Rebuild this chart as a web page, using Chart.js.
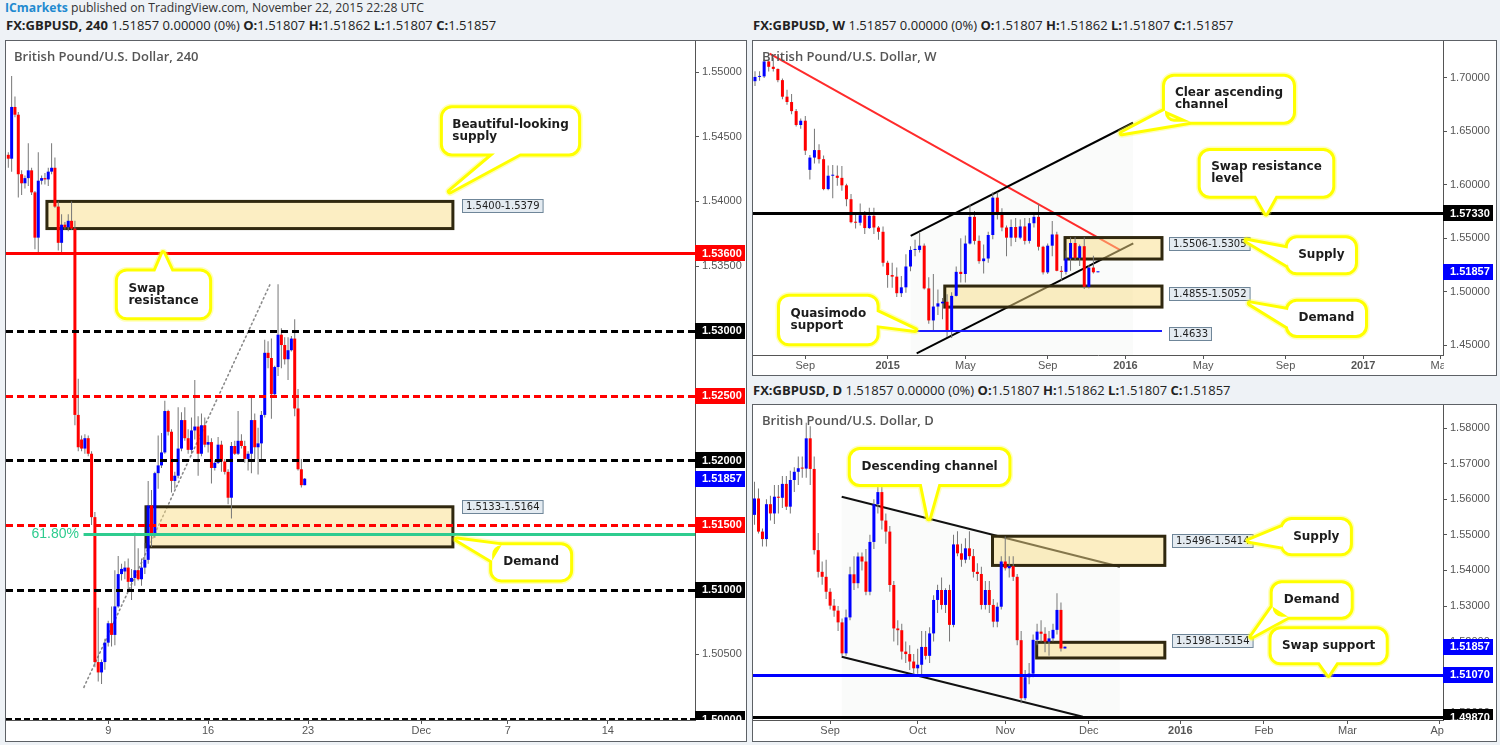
<!DOCTYPE html>
<html>
<head>
<meta charset="utf-8">
<script src="https://cdn.jsdelivr.net/npm/chart.js@4.4.0/dist/chart.umd.min.js"></script>
<style>
  body { margin: 0; width: 1500px; height: 745px; background: #eef2f6; position: relative; overflow: hidden; font-family: "Open Sans", sans-serif; }
  .hdr { position: absolute; font-size: 13px; line-height: 16px; color: #222; white-space: nowrap; }
  .hdr b { font-weight: 700; }
  .panel { position: absolute; border: 1px solid #5d6166; background: #fff; box-sizing: border-box; }
  .panel canvas { display: block; }
</style>
</head>
<body>
<div class="hdr" style="left:5px;top:0px;color:#333;font-size:12.2px"><b style="color:#1f8ad0">ICmarkets</b> published on TradingView.com, November 22, 2015 22:28 UTC</div>
<div class="hdr" style="left:6px;top:17px"><b>FX:GBPUSD, 240</b> 1.51857 0.00000 (0%) <b>O:</b>1.51807 <b>H:</b>1.51862 <b>L:</b>1.51807 <b>C:</b>1.51857</div>
<div class="hdr" style="left:753px;top:17px"><b>FX:GBPUSD, W</b> 1.51857 0.00000 (0%) <b>O:</b>1.51807 <b>H:</b>1.51862 <b>L:</b>1.51807 <b>C:</b>1.51857</div>
<div class="hdr" style="left:753px;top:382px"><b>FX:GBPUSD, D</b> 1.51857 0.00000 (0%) <b>O:</b>1.51807 <b>H:</b>1.51862 <b>L:</b>1.51807 <b>C:</b>1.51857</div>

<div class="panel" style="left:5px;top:40px;width:742px;height:702px"><canvas id="h4" width="740" height="700"></canvas></div>
<div class="panel" style="left:752px;top:40px;width:745px;height:336px"><canvas id="weekly" width="743" height="334"></canvas></div>
<div class="panel" style="left:752px;top:404px;width:745px;height:338px"><canvas id="daily" width="743" height="336"></canvas></div>

<script>
// rows are [open, high, low, close]
const h4Ohlc = [
  [1.5436,1.5438,1.5426,1.5433],[1.5433,1.5497,1.5423,1.5473],[1.5473,1.5481,1.5465,1.5467],[1.5467,1.5469,1.5403,1.5421],
  [1.5421,1.5424,1.5405,1.5414],[1.5414,1.5420,1.5410,1.5418],[1.5418,1.5445,1.5412,1.5424],[1.5424,1.5426,1.5405,1.5407],
  [1.5407,1.5408,1.5363,1.5372],[1.5372,1.5438,1.5359,1.5416],[1.5416,1.5420,1.5413,1.5418],[1.5418,1.5422,1.5413,1.5417],
  [1.5417,1.5426,1.5412,1.5423],[1.5423,1.5445,1.5421,1.5426],[1.5426,1.5434,1.5395,1.5396],[1.5396,1.5400,1.5362,1.5368],
  [1.5368,1.5390,1.5360,1.5382],[1.5382,1.5384,1.5378,1.5380],[1.5380,1.5390,1.5377,1.5385],[1.5385,1.5400,1.5378,1.5379],
  [1.5379,1.5385,1.5227,1.5235],[1.5235,1.5263,1.5207,1.5210],[1.5216,1.5219,1.5207,1.5209],[1.5209,1.5220,1.5205,1.5217],
  [1.5217,1.5219,1.5203,1.5205],[1.5205,1.5207,1.5150,1.5156],[1.5156,1.5160,1.5040,1.5044],[1.5044,1.5086,1.5029,1.5036],
  [1.5036,1.5046,1.5027,1.5044],[1.5044,1.5062,1.5038,1.5059],[1.5059,1.5076,1.5056,1.5074],[1.5074,1.5087,1.5056,1.5065],
  [1.5065,1.5115,1.5057,1.5087],[1.5087,1.5126,1.5086,1.5112],[1.5112,1.5120,1.5107,1.5116],[1.5114,1.5122,1.5108,1.5117],
  [1.5117,1.5124,1.5100,1.5106],[1.5106,1.5116,1.5092,1.5109],[1.5109,1.5144,1.5103,1.5115],[1.5115,1.5132,1.5107,1.5108],
  [1.5108,1.5124,1.5103,1.5117],[1.5117,1.5136,1.5112,1.5123],[1.5123,1.5184,1.5120,1.5165],[1.5165,1.5177,1.5133,1.5143],
  [1.5143,1.5191,1.5140,1.5190],[1.5190,1.5219,1.5178,1.5196],[1.5196,1.5221,1.5194,1.5206],[1.5206,1.5246,1.5205,1.5238],
  [1.5238,1.5239,1.5219,1.5222],[1.5222,1.5224,1.5175,1.5184],[1.5184,1.5191,1.5178,1.5188],[1.5188,1.5241,1.5186,1.5209],
  [1.5209,1.5237,1.5207,1.5231],[1.5231,1.5241,1.5215,1.5217],[1.5217,1.5224,1.5205,1.5208],[1.5208,1.5233,1.5205,1.5223],
  [1.5223,1.5262,1.5216,1.5226],[1.5226,1.5234,1.5188,1.5205],[1.5205,1.5236,1.5203,1.5227],[1.5227,1.5233,1.5210,1.5212],
  [1.5212,1.5219,1.5206,1.5214],[1.5214,1.5217,1.5182,1.5194],[1.5194,1.5200,1.5192,1.5198],[1.5198,1.5218,1.5197,1.5212],
  [1.5212,1.5215,1.5191,1.5199],[1.5199,1.5201,1.5189,1.5191],[1.5191,1.5193,1.5166,1.5171],[1.5171,1.5214,1.5155,1.5211],
  [1.5211,1.5215,1.5204,1.5205],[1.5205,1.5238,1.5204,1.5215],[1.5215,1.5220,1.5209,1.5211],[1.5211,1.5215,1.5198,1.5201],
  [1.5201,1.5207,1.5192,1.5205],[1.5205,1.5249,1.5190,1.5231],[1.5231,1.5236,1.5201,1.5210],[1.5210,1.5225,1.5189,1.5213],
  [1.5213,1.5238,1.5201,1.5235],[1.5235,1.5293,1.5233,1.5283],[1.5283,1.5292,1.5271,1.5279],[1.5279,1.5294,1.5232,1.5251],
  [1.5251,1.5273,1.5250,1.5272],[1.5272,1.5336,1.5265,1.5297],[1.5297,1.5302,1.5271,1.5289],[1.5289,1.5295,1.5274,1.5278],
  [1.5278,1.5295,1.5262,1.5285],[1.5285,1.5296,1.5284,1.5294],[1.5294,1.5309,1.5234,1.5240],[1.5240,1.5255,1.5192,1.5193],
  [1.5193,1.5201,1.5179,1.51807],[1.51807,1.51862,1.51807,1.51857]
];
const h4Ticks = [[30, '9'], [60, '16'], [90, '23'], [124, 'Dec'], [150, '7'], [180, '14']];
const h4PriceTicks = [1.505, 1.51, 1.515, 1.52, 1.525, 1.53, 1.535, 1.54, 1.545, 1.55];

const weeklyOhlc = [
  [1.6970,1.7063,1.6925,1.7010],[1.7010,1.7064,1.6975,1.7015],[1.7015,1.7180,1.7000,1.7155],[1.7155,1.7178,1.7060,1.7105],
  [1.7105,1.7191,1.7060,1.7085],[1.7085,1.7090,1.6960,1.6980],[1.6980,1.6995,1.6800,1.6825],[1.6825,1.6890,1.6750,1.6775],
  [1.6775,1.6850,1.6660,1.6690],[1.6690,1.6710,1.6545,1.6560],[1.6560,1.6620,1.6525,1.6600],[1.6600,1.6645,1.6280,1.6320],
  [1.6140,1.6280,1.6050,1.6255],[1.6255,1.6525,1.6200,1.6325],[1.6325,1.6380,1.6200,1.6240],[1.6240,1.6275,1.5950,1.5960],
  [1.5960,1.6180,1.5950,1.6085],[1.6085,1.6185,1.5875,1.6085],[1.6085,1.6180,1.5990,1.6065],[1.6065,1.6175,1.5945,1.5995],
  [1.5995,1.6010,1.5800,1.5865],[1.5865,1.5915,1.5640,1.5650],[1.5650,1.5740,1.5590,1.5645],[1.5645,1.5825,1.5620,1.5715],
  [1.5715,1.5755,1.5540,1.5595],[1.5595,1.5785,1.5585,1.5710],[1.5710,1.5785,1.5540,1.5600],[1.5600,1.5615,1.5485,1.5560],
  [1.5560,1.5610,1.5235,1.5270],[1.5270,1.5290,1.5035,1.5155],[1.5155,1.5270,1.5035,1.5140],[1.5140,1.5225,1.4950,1.4985],
  [1.4985,1.5145,1.4950,1.5040],[1.5040,1.5350,1.4990,1.5235],[1.5235,1.5425,1.5190,1.5390],[1.5390,1.5485,1.5330,1.5390],
  [1.5390,1.5550,1.5365,1.5430],[1.5430,1.5450,1.5020,1.5030],[1.5030,1.5135,1.4700,1.4730],[1.4730,1.5165,1.4635,1.4860],
  [1.4860,1.5020,1.4780,1.4890],[1.4890,1.4940,1.4740,1.4905],[1.4905,1.4975,1.4575,1.4625],[1.4625,1.4995,1.4565,1.4960],
  [1.4960,1.5235,1.4955,1.5185],[1.5185,1.5500,1.5085,1.5165],[1.5165,1.5525,1.5085,1.5450],[1.5450,1.5815,1.5440,1.5700],
  [1.5700,1.5755,1.5440,1.5475],[1.5475,1.5525,1.5260,1.5285],[1.5285,1.5440,1.5170,1.5310],[1.5310,1.5560,1.5270,1.5530],
  [1.5530,1.5930,1.5490,1.5880],[1.5880,1.5930,1.5675,1.5745],[1.5745,1.5780,1.5565,1.5600],[1.5600,1.5620,1.5330,1.5505],
  [1.5505,1.5675,1.5425,1.5605],[1.5605,1.5690,1.5465,1.5505],[1.5505,1.5675,1.5490,1.5610],[1.5610,1.5690,1.5440,1.5475],
  [1.5475,1.5690,1.5450,1.5640],[1.5640,1.5720,1.5600,1.5700],[1.5700,1.5820,1.5385,1.5420],[1.5420,1.5430,1.5160,1.5180],
  [1.5180,1.5450,1.5165,1.5430],[1.5430,1.5660,1.5330,1.5535],[1.5535,1.5560,1.5190,1.5195],[1.5195,1.5240,1.5105,1.5185],
  [1.5185,1.5385,1.5160,1.5310],[1.5310,1.5510,1.5195,1.5455],[1.5455,1.5510,1.5290,1.5315],[1.5315,1.5440,1.5240,1.5425],
  [1.5425,1.5510,1.5025,1.5045],[1.5045,1.5250,1.5030,1.5225],[1.5225,1.5335,1.5170,1.51807],[1.51807,1.51862,1.51807,1.51857]
];
const weeklyTicks = [[11, 'Sep'], [29, '2015'], [46, 'May'], [64, 'Sep'], [81, '2016'], [98, 'May'], [116, 'Sep'], [133, '2017'], [150, 'May']];
const weeklyPriceTicks = [1.45, 1.50, 1.55, 1.60, 1.65, 1.70];

const dailyOhlc = [
  [1.5556,1.5649,1.5528,1.5602],[1.5602,1.5630,1.5504,1.5509],[1.5509,1.5518,1.5467,1.5488],[1.5488,1.5600,1.5467,1.5586],
  [1.5586,1.5610,1.5540,1.5560],[1.5560,1.5640,1.5530,1.5607],[1.5607,1.5640,1.5560,1.5604],[1.5604,1.5665,1.5575,1.5643],
  [1.5643,1.5665,1.5570,1.5579],[1.5579,1.5680,1.5560,1.5654],[1.5654,1.5690,1.5620,1.5677],[1.5677,1.5720,1.5640,1.5687],
  [1.5687,1.5720,1.5660,1.5686],[1.5686,1.5815,1.5660,1.5771],[1.5771,1.5805,1.5640,1.5685],[1.5685,1.5720,1.5445,1.5457],
  [1.5457,1.5505,1.5380,1.5396],[1.5396,1.5425,1.5360,1.5382],[1.5382,1.5430,1.5320,1.5340],[1.5340,1.5350,1.5290,1.5301],
  [1.5301,1.5320,1.5270,1.5287],[1.5287,1.5300,1.5230,1.5254],[1.5254,1.5265,1.5160,1.5167],[1.5167,1.5290,1.5160,1.5268],
  [1.5268,1.5410,1.5260,1.5389],[1.5389,1.5440,1.5345,1.5364],[1.5364,1.5450,1.5350,1.5439],[1.5439,1.5450,1.5400,1.5425],
  [1.5425,1.5460,1.5330,1.5340],[1.5340,1.5500,1.5330,1.5480],[1.5480,1.5600,1.5460,1.5586],[1.5586,1.5660,1.5560,1.5620],
  [1.5620,1.5640,1.5515,1.5540],[1.5540,1.5560,1.5475,1.5509],[1.5509,1.5525,1.5340,1.5359],[1.5359,1.5370,1.5200,1.5237],
  [1.5237,1.5260,1.5190,1.5232],[1.5232,1.5250,1.5150,1.5172],[1.5172,1.5200,1.5140,1.5165],[1.5165,1.5190,1.5120,1.5144],
  [1.5144,1.5165,1.5107,1.5125],[1.5125,1.5180,1.5110,1.5135],[1.5135,1.5230,1.5105,1.5185],[1.5185,1.5230,1.5150,1.5160],
  [1.5160,1.5240,1.5140,1.5223],[1.5223,1.5330,1.5200,1.5317],[1.5317,1.5360,1.5280,1.5345],[1.5345,1.5380,1.5290,1.5303],
  [1.5303,1.5350,1.5280,1.5345],[1.5345,1.5360,1.5200,1.5247],[1.5247,1.5500,1.5240,1.5473],[1.5473,1.5510,1.5440,1.5448],
  [1.5448,1.5475,1.5410,1.5430],[1.5430,1.5490,1.5420,1.5462],[1.5462,1.5510,1.5430,1.5440],[1.5440,1.5460,1.5380,1.5396],
  [1.5396,1.5420,1.5370,1.5390],[1.5390,1.5410,1.5290,1.5303],[1.5303,1.5370,1.5290,1.5345],[1.5345,1.5370,1.5280,1.5303],
  [1.5303,1.5320,1.5240,1.5256],[1.5256,1.5310,1.5240,1.5298],[1.5298,1.5440,1.5290,1.5425],[1.5425,1.5495,1.5400,1.5406],
  [1.5406,1.5440,1.5380,1.5412],[1.5412,1.5440,1.5370,1.5382],[1.5382,1.5390,1.5190,1.5204],[1.5204,1.5230,1.5027,1.5041],
  [1.5041,1.5120,1.5035,1.5100],[1.5100,1.5140,1.5080,1.5110],[1.5110,1.5220,1.5100,1.5205],[1.5205,1.5250,1.5190,1.5228],
  [1.5228,1.5260,1.5200,1.5222],[1.5222,1.5240,1.5170,1.5200],[1.5200,1.5230,1.5160,1.5209],[1.5209,1.5250,1.5200,1.5233],
  [1.5233,1.5336,1.5220,1.5289],[1.5289,1.5310,1.5172,1.51807],[1.51807,1.51862,1.51807,1.51857]
];
const dailyTicks = [[19, 'Sep'], [41, 'Oct'], [63, 'Nov'], [84, 'Dec'], [107, '2016'], [128, 'Feb'], [149, 'Mar'], [172, 'Apr']];
const dailyPriceTicks = [1.50, 1.51, 1.52, 1.53, 1.54, 1.55, 1.56, 1.57, 1.58];

// drawings, anchored in bar index / price
const h4Levels = [
  { p: 1.5360, color: '#ff0000', w: 3 },
  { p: 1.5300, color: '#000000', w: 3, dash: [7, 4] },
  { p: 1.5250, color: '#ff0000', w: 3, dash: [7, 4] },
  { p: 1.5200, color: '#000000', w: 3, dash: [7, 4] },
  { p: 1.5150, color: '#ff0000', w: 3, dash: [7, 4] },
  { p: 1.5100, color: '#000000', w: 3, dash: [7, 4] },
  { p: 1.5000, color: '#000000', w: 2, dash: [6, 3] },
  { p: 1.5143, color: '#2ecc8f', w: 3, from: 22.6 }
];
const h4Trends = [{ from: [22.7, 1.50245], to: [78.6, 1.53359], color: '#8a8a8a', w: 1.6, dash: [1.5, 3.2] }];
const h4Zones = [{ from: 11.6, to: 133.5, top: 1.5400, bottom: 1.5379 }, { from: 41.35, to: 133.5, top: 1.5164, bottom: 1.5133 }];
const h4ZoneTags = [{ x: 136.2, p: 1.53965, text: '1.5400-1.5379' }, { x: 136.2, p: 1.51643, text: '1.5133-1.5164' }];
const h4AxisTags = [
  { p: 1.5360, bg: '#ff0000' }, { p: 1.5300, bg: '#000000' }, { p: 1.5250, bg: '#ff0000' }, { p: 1.5200, bg: '#000000' },
  { p: 1.51857, bg: '#0000ff' }, { p: 1.5150, bg: '#ff0000' }, { p: 1.5100, bg: '#000000' }, { p: 1.5000, bg: '#000000' }
];
const h4Texts = [{ x: 21.2, p: 1.5143, text: '61.80%', color: '#2ecc8f', font: '14px "Liberation Sans"' }];
const h4Callouts = [
  { lines: ['Beautiful-looking', 'supply'], x0: 130.5, x1: 171.1, y0: 1.54719, y1: 1.54371, tip: [132.6, 1.54077], base: [[0.385, 1], [0.57, 1]] },
  { lines: ['Swap', 'resistance'], x0: 32.9, x1: 60.3, y0: 1.53459, y1: 1.53104, tip: [46.5, 1.5360], base: [[0.41, 0], [0.59, 0]] },
  { lines: ['Demand'], x0: 145.3, x1: 168.7, y0: 1.51342, y1: 1.51079, tip: [134.7, 1.51388], base: [[0.12, 0], [0, 0.45]] }
];

const weeklyLevels = [
  { p: 1.5733, color: '#000000', w: 3 },
  { p: 1.4633, color: '#1a1aff', w: 2, from: 35.0, to: 89.0 }
];
const weeklyTrends = [
  { from: [3.2, 1.7228], to: [79.8, 1.5390], color: '#ff2b2b', w: 2 },
  { from: [34.05, 1.5521], to: [82.66, 1.6581], color: '#000000', w: 2 },
  { from: [35.36, 1.4422], to: [82.72, 1.5452], color: '#000000', w: 2 }
];
const weeklyShades = [{ from: [34.05, 1.5521], to: [82.66, 1.6581] }];
const weeklyZones = [{ from: 67.8, to: 89.0, top: 1.5506, bottom: 1.5305 }, { from: 41.5, to: 89.0, top: 1.5052, bottom: 1.4855 }];
const weeklyZoneTags = [
  { x: 90.5, p: 1.5455, text: '1.5506-1.5305' }, { x: 90.5, p: 1.4978, text: '1.4855-1.5052' }, { x: 90.5, p: 1.4603, text: '1.4633' }
];
const weeklyAxisTags = [{ p: 1.5733, bg: '#000000' }, { p: 1.51857, bg: '#0000ff' }];
const weeklyCallouts = [
  { lines: ['Clear ascending', 'channel'], x0: 89.65, x1: 117.65, y0: 1.7012, y1: 1.6591, tip: [80.2, 1.6482], base: [[0, 0.75], [0.2, 1]] },
  { lines: ['Swap resistance', 'level'], x0: 97.46, x1: 126.24, y0: 1.6316, y1: 1.5898, tip: [111.74, 1.5733], base: [[0.42, 1], [0.57, 1]] },
  { lines: ['Supply'], x0: 116.5, x1: 131.2, y0: 1.5499, y1: 1.5181, tip: [107.5, 1.5477], base: [[0, 0.3], [0, 0.8]] },
  { lines: ['Demand'], x0: 116.5, x1: 133.4, y0: 1.4905, y1: 1.4594, tip: [108.2, 1.4890], base: [[0, 0.25], [0, 0.75]] },
  { lines: ['Quasimodo', 'support'], x0: 5.47, x1: 26.6, y0: 1.4952, y1: 1.4516, tip: [35.0, 1.4640], base: [[1, 0.32], [1, 0.61]] }
];

const dailyLevels = [{ p: 1.5107, color: '#0000ff', w: 3 }, { p: 1.4987, color: '#000000', w: 3 }];
const dailyTrends = [
  { from: [21.9, 1.56070], to: [91.8, 1.54104], color: '#111111', w: 2 },
  { from: [21.9, 1.51576], to: [82.5, 1.49890], color: '#111111', w: 2 }
];
const dailyShades = [{ from: [21.9, 1.56070], to: [91.8, 1.54104] }];
const dailyZones = [{ from: 59.8, to: 103.1, top: 1.5496, bottom: 1.5414 }, { from: 70.9, to: 103.1, top: 1.5198, bottom: 1.5154 }];
const dailyZoneTags = [{ x: 104.9, p: 1.54846, text: '1.5496-1.5414' }, { x: 104.9, p: 1.52025, text: '1.5198-1.5154' }];
const dailyAxisTags = [{ p: 1.51857, bg: '#0000ff' }, { p: 1.5107, bg: '#0000ff' }, { p: 1.4987, bg: '#000000' }];
const dailyCallouts = [
  { lines: ['Descending channel'], x0: 24.2, x1: 63.8, y0: 1.57382, y1: 1.56427, tip: [43.8, 1.55464], base: [[0.45, 1], [0.556, 1]] },
  { lines: ['Supply'], x0: 132.7, x1: 149.6, y0: 1.55416, y1: 1.54480, tip: [124.2, 1.54834], base: [[0, 0.2], [0, 0.8]] },
  { lines: ['Demand'], x0: 130.2, x1: 149.8, y0: 1.53638, y1: 1.52699, tip: [124.9, 1.52138], base: [[0, 0.7], [0.2, 1]] },
  { lines: ['Swap support'], x0: 129.9, x1: 158.6, y0: 1.52346, y1: 1.51419, tip: [144.2, 1.5107], base: [[0.42, 1], [0.57, 1]] }
];

const UP = '#0000ff', DOWN = '#ff0000', WICK = '#777777', AXIS = '#555555';

function drawCallout(ctx, X, Y, c) {
  const l = X(c.x0), r = X(c.x1), t = Y(c.y0), b = Y(c.y1);
  const w = r - l, h = b - t;
  const pt = f => [l + f[0] * w, t + f[1] * h];
  const p1 = pt(c.base[0]), p2 = pt(c.base[1]);
  const tip = [X(c.tip[0]), Y(c.tip[1])];
  const shape = () => {
    ctx.beginPath();
    ctx.roundRect(l, t, w, h, 9);
    ctx.moveTo(p1[0], p1[1]); ctx.lineTo(tip[0], tip[1]); ctx.lineTo(p2[0], p2[1]); ctx.closePath();
  };
  ctx.lineJoin = 'round';
  shape(); ctx.strokeStyle = 'rgba(255,255,60,0.35)'; ctx.lineWidth = 9; ctx.stroke();
  shape(); ctx.strokeStyle = '#ffff00'; ctx.lineWidth = 6; ctx.stroke();
  shape(); ctx.fillStyle = '#ffffff'; ctx.fill();
  ctx.font = 'bold 12px "DejaVu Sans"';
  ctx.fillStyle = '#1c1c1c';
  ctx.textAlign = 'left';
  ctx.textBaseline = 'middle';
  const maxW = Math.max(...c.lines.map(s => ctx.measureText(s).width));
  const x = l + (w - maxW) / 2;
  const y0 = (t + b) / 2 - (c.lines.length - 1) * 6;
  c.lines.forEach((s, i) => ctx.fillText(s, x, y0 + i * 12));
}

function notesPlugin(n) {
  return {
    id: 'notes',
    beforeDatasetsDraw(chart) {
      const { ctx, chartArea: a } = chart;
      const X = v => chart.scales.x.getPixelForValue(v);
      const Y = v => chart.scales.y.getPixelForValue(v);
      ctx.save();
      ctx.beginPath(); ctx.rect(a.left, a.top, a.width, a.height); ctx.clip();
      (n.shades || []).forEach(s => {
        ctx.fillStyle = 'rgba(110,140,110,0.03)';
        ctx.beginPath();
        ctx.moveTo(X(s.from[0]), Y(s.from[1])); ctx.lineTo(X(s.to[0]), Y(s.to[1]));
        ctx.lineTo(X(s.to[0]), a.bottom); ctx.lineTo(X(s.from[0]), a.bottom);
        ctx.closePath(); ctx.fill();
      });
      (n.trends || []).forEach(t => {
        ctx.strokeStyle = t.color; ctx.lineWidth = t.w;
        ctx.setLineDash(t.dash || []); ctx.lineCap = t.dash ? 'round' : 'butt';
        ctx.beginPath(); ctx.moveTo(X(t.from[0]), Y(t.from[1])); ctx.lineTo(X(t.to[0]), Y(t.to[1])); ctx.stroke();
      });
      ctx.setLineDash([]); ctx.lineCap = 'butt';
      (n.zones || []).forEach(z => {
        const l = X(z.from), r = X(z.to), t = Y(z.top), b = Y(z.bottom);
        ctx.fillStyle = 'rgba(250,222,135,0.5)';
        ctx.fillRect(l, t, r - l, b - t);
        ctx.strokeStyle = '#30280f'; ctx.lineWidth = 3;
        ctx.strokeRect(l, t, r - l, b - t);
      });
      ctx.restore();
    },
    afterDatasetsDraw(chart) {
      const { ctx, chartArea: a } = chart;
      const X = v => chart.scales.x.getPixelForValue(v);
      const Y = v => chart.scales.y.getPixelForValue(v);
      ctx.save();
      ctx.beginPath(); ctx.rect(a.left, a.top, a.width, a.height); ctx.clip();
      (n.levels || []).forEach(lv => {
        const y = Math.round(Y(lv.p)) + (lv.w % 2 ? 0.5 : 0);
        ctx.strokeStyle = lv.color; ctx.lineWidth = lv.w; ctx.setLineDash(lv.dash || []);
        ctx.beginPath();
        ctx.moveTo(lv.from !== undefined ? X(lv.from) : a.left, y);
        ctx.lineTo(lv.to !== undefined ? X(lv.to) : a.right, y);
        ctx.stroke();
      });
      ctx.setLineDash([]);
      (n.texts || []).forEach(tx => {
        ctx.font = tx.font; ctx.fillStyle = tx.color;
        ctx.textAlign = 'right'; ctx.textBaseline = 'middle';
        ctx.fillText(tx.text, X(tx.x), Y(tx.p));
      });
      (n.zoneTags || []).forEach(tg => {
        ctx.font = '10px "DejaVu Sans"';
        const w = ctx.measureText(tg.text).width + 7;
        const x = Math.round(X(tg.x)) + 0.5, y = Math.round(Y(tg.p) - 6.5) + 0.5;
        ctx.fillStyle = '#e4ebf1'; ctx.fillRect(x, y, w, 13);
        ctx.strokeStyle = '#6f8699'; ctx.lineWidth = 1; ctx.strokeRect(x, y, w, 13);
        ctx.fillStyle = '#1e1e1e'; ctx.textAlign = 'left'; ctx.textBaseline = 'middle';
        ctx.fillText(tg.text, x + 3.5, y + 7);
      });
      (n.callouts || []).forEach(c => drawCallout(ctx, X, Y, c));
      ctx.font = '600 13px "Open Sans"';
      ctx.fillStyle = '#555555'; ctx.textAlign = 'left'; ctx.textBaseline = 'middle';
      ctx.fillText(n.title, a.left + n.titleX, a.top + 16);
      ctx.restore();

      // price tags on the axis
      ctx.save();
      ctx.beginPath(); ctx.rect(a.right, a.top, chart.width - a.right, a.height); ctx.clip();
      (n.axisTags || []).forEach(tg => {
        const y = Y(tg.p);
        ctx.fillStyle = tg.bg;
        ctx.fillRect(a.right, Math.round(y - 8), 50, 16);
        ctx.font = 'bold 11px "Liberation Sans"';
        ctx.fillStyle = '#ffffff'; ctx.textAlign = 'left'; ctx.textBaseline = 'middle';
        ctx.fillText(tg.p.toFixed(5), a.right + 7, y + 0.5);
      });
      ctx.restore();
    },
    afterDraw(chart) {
      // the corner under the price scale stays blank; time labels are cut there
      const { ctx, chartArea: a } = chart;
      ctx.fillStyle = '#ffffff';
      ctx.fillRect(a.right + 1, a.bottom + 1, chart.width - a.right, chart.height - a.bottom);
    }
  };
}

function candleChart(id, rows, xTicks, yTicks, view, notes) {
  return new Chart(document.getElementById(id), {
    type: 'bar',
    data: {
      datasets: [
        { data: rows.map((r, i) => ({ x: i, y: [r[2], r[1]] })), backgroundColor: WICK, barThickness: 1, order: 2 },
        { data: rows.map((r, i) => ({ x: i, y: [r[0], r[3]] })), backgroundColor: rows.map(r => r[3] >= r[0] ? UP : DOWN),
          barThickness: 3, minBarLength: 1, order: 1 }
      ]
    },
    options: {
      responsive: false, animation: false, devicePixelRatio: 1, events: [],
      layout: { padding: 0 },
      datasets: { bar: { grouped: false, inflateAmount: 0, borderWidth: 0, clip: 0 } },
      plugins: { legend: { display: false }, tooltip: { enabled: false } },
      scales: {
        x: {
          type: 'linear', min: view.xMin, max: view.xMax, offset: false,
          afterBuildTicks: s => { s.ticks = xTicks.map(t => ({ value: t[0] })); },
          afterFit: s => { s.height = view.axisH; s.paddingLeft = 0; s.paddingRight = 0; },
          ticks: {
            autoSkip: false, maxRotation: 0, padding: 0, color: AXIS,
            callback: (v, i) => xTicks[i] ? xTicks[i][1] : '',
            font: c => ({ family: 'Liberation Sans', size: 11, weight: /^\d{4}$/.test((xTicks[c.index] || [])[1]) ? 'bold' : 'normal' })
          },
          grid: { drawOnChartArea: false, drawTicks: true, tickLength: 4, color: AXIS, offset: false },
          border: { color: AXIS }
        },
        y: {
          position: 'right', min: view.yMin, max: view.yMax,
          afterBuildTicks: s => { s.ticks = yTicks.map(v => ({ value: v })); },
          afterFit: s => { s.width = view.axisW; s.paddingTop = 0; s.paddingBottom = 0; },
          ticks: { callback: v => v.toFixed(5), color: AXIS, padding: 3, font: { family: 'Liberation Sans', size: 11 } },
          grid: { drawOnChartArea: false, drawTicks: true, tickLength: 4, color: AXIS },
          border: { color: AXIS }
        }
      }
    },
    plugins: [notesPlugin(notes)]
  });
}

candleChart('h4', h4Ohlc, h4Ticks, h4PriceTicks,
  { xMin: -0.691, xMax: 206.2, yMin: 1.499923, yMax: 1.552396, axisW: 51, axisH: 21 },
  { levels: h4Levels, trends: h4Trends, zones: h4Zones, zoneTags: h4ZoneTags, axisTags: h4AxisTags,
    texts: h4Texts, callouts: h4Callouts, title: 'British Pound/U.S. Dollar, 240', titleX: 8 });

candleChart('weekly', weeklyOhlc, weeklyTicks, weeklyPriceTicks,
  { xMin: -0.437, xMax: 150.45, yMin: 1.440637, yMax: 1.734644, axisW: 53, axisH: 20 },
  { levels: weeklyLevels, trends: weeklyTrends, shades: weeklyShades, zones: weeklyZones, zoneTags: weeklyZoneTags,
    axisTags: weeklyAxisTags, callouts: weeklyCallouts, title: 'British Pound/U.S. Dollar, W', titleX: 9 });

candleChart('daily', dailyOhlc, dailyTicks, dailyPriceTicks,
  { xMin: -0.377, xMax: 172.99, yMin: 1.497978, yMax: 1.586461, axisW: 53, axisH: 21 },
  { levels: dailyLevels, trends: dailyTrends, shades: dailyShades, zones: dailyZones, zoneTags: dailyZoneTags,
    axisTags: dailyAxisTags, callouts: dailyCallouts, title: 'British Pound/U.S. Dollar, D', titleX: 9 });
</script>
</body>
</html>
